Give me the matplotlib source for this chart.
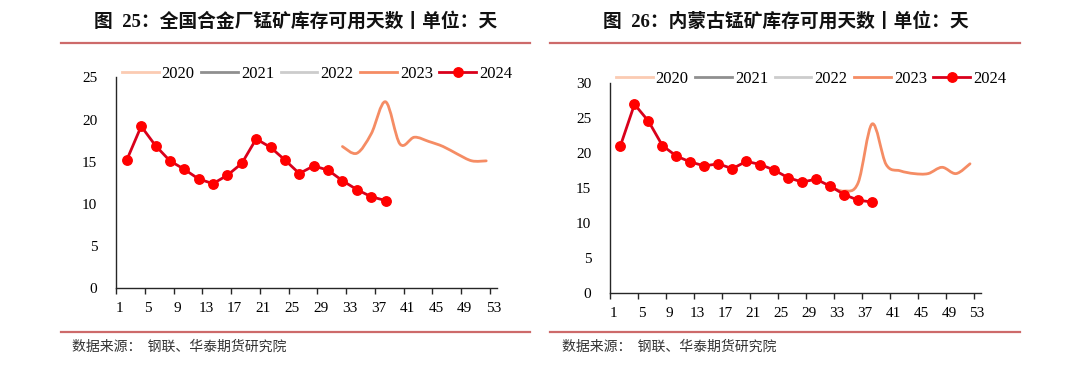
import matplotlib
matplotlib.use("Agg")
import matplotlib.pyplot as plt
from matplotlib.path import Path
from matplotlib.patches import PathPatch
from matplotlib.lines import Line2D
import numpy as np

# ---- data ----
weeks_2024 = [2, 4, 6, 8, 10, 12, 14, 16, 18, 20, 22, 24, 26, 28, 30, 32, 34, 36, 38]
national_2024 = [15.2, 19.2, 16.9, 15.1, 14.1, 12.95, 12.4, 13.4, 14.8, 17.7,
                 16.7, 15.2, 13.6, 14.5, 14.0, 12.75, 11.7, 10.85, 10.4]
inner_2024 = [21.1, 27.0, 24.6, 21.1, 19.6, 18.76, 18.2, 18.5, 17.8, 18.85,
              18.4, 17.6, 16.5, 15.9, 16.3, 15.3, 14.1, 13.3, 13.04]

weeks_2023 = [32, 34, 36, 38, 40, 42, 44, 46, 48, 50, 52]
national_2023 = [16.8, 16.0, 18.3, 22.1, 17.1, 17.9, 17.4, 16.8, 15.9, 15.1, 15.1]
inner_2023 = [15.2, 14.6, 15.8, 24.2, 18.4, 17.5, 17.1, 17.1, 18.0, 17.1, 18.5]

years = ["2020", "2021", "2022", "2023", "2024"]
year_colors = ["#FBCBB2", "#8F8F8F", "#CCCCCC", "#F58C64", "#D9001B"]
xtick_labels = [str(v) for v in range(1, 54, 4)]

titles = ["图  25：全国合金厂锰矿库存可用天数丨单位：天",
          "图  26：内蒙古锰矿库存可用天数丨单位：天"]
source = "数据来源：  钢联、华泰期货研究院"

SERIF = ["Liberation Serif", "Noto Sans CJK SC"]
CJK = ["Noto Sans CJK SC", "DejaVu Sans"]

W, H = 1080, 370
fig = plt.figure(figsize=(W / 100, H / 100), dpi=100)


def fx(px):
    return px / W


def fy(py):
    return 1 - py / H


def smooth_path(xs, ys):
    xs = np.asarray(xs, float)
    ys = np.asarray(ys, float)
    pts = np.column_stack([xs, ys])
    n = len(pts)
    verts = [pts[0]]
    codes = [Path.MOVETO]
    for i in range(n - 1):
        p0 = pts[i - 1] if i > 0 else pts[i]
        p1 = pts[i]
        p2 = pts[i + 1]
        p3 = pts[i + 2] if i + 2 < n else pts[i + 1]
        c1 = p1 + (p2 - p0) / 6.0
        c2 = p2 - (p3 - p1) / 6.0
        verts += [c1, c2, p2]
        codes += [Path.CURVE4] * 3
    return Path(verts, codes)


def draw_panel(rect, ymax, data23, data24, legend_x, legend_y):
    ax = fig.add_axes(rect)
    ax.set_xlim(0.5, 53.5)
    ax.set_ylim(0, ymax)
    for s in ["top", "right"]:
        ax.spines[s].set_visible(False)
    for s in ["left", "bottom"]:
        ax.spines[s].set_color("#262626")
        ax.spines[s].set_linewidth(1.0)

    # 2023 smoothed line
    patch = PathPatch(smooth_path(weeks_2023, data23), facecolor="none",
                      edgecolor=year_colors[3], lw=2.0, capstyle="round",
                      joinstyle="round", zorder=3, clip_on=False)
    ax.add_patch(patch)
    # empty series for 2020-2022
    for i in range(3):
        ax.plot([], [], color=year_colors[i], lw=2.0)
    ax.plot(weeks_2024, data24, color=year_colors[4], lw=2.0, marker="o",
            markersize=6.8, markerfacecolor="#FF0000", markeredgecolor="#FF0000",
            zorder=4, clip_on=False)

    # x ticks: marks between categories, labels on categories
    ax.set_xticks(np.arange(0.5, 53, 4), minor=True)
    ax.set_xticks(list(range(1, 54, 4)))
    ax.set_xticklabels(xtick_labels, fontfamily=SERIF, fontsize=11)
    ax.tick_params(axis="x", which="major", length=0, pad=10, colors="#000000")
    ax.tick_params(axis="x", which="minor", length=4, width=1.0,
                   direction="out", color="#262626")
    ax.set_yticks(np.arange(0, ymax + 0.1, 5))
    ax.set_yticklabels([str(int(v)) for v in np.arange(0, ymax + 0.1, 5)],
                       fontfamily=SERIF, fontsize=11)
    ax.tick_params(axis="y", length=0, pad=13.5)

    handles = []
    for i, y in enumerate(years):
        if i == 4:
            h = Line2D([], [], color=year_colors[i], lw=2.0, marker="o",
                       markersize=6.8, markerfacecolor="#FF0000",
                       markeredgecolor="#FF0000")
        else:
            h = Line2D([], [], color=year_colors[i], lw=2.0)
        handles.append(h)
    ax.legend(handles, years, ncol=5, frameon=False, loc="center left",
              bbox_to_anchor=(fx(legend_x), fy(legend_y)),
              bbox_transform=fig.transFigure,
              prop={"family": SERIF, "size": 12},
              handlelength=2.2, handletextpad=0.18, columnspacing=0.4,
              borderpad=0, borderaxespad=0)
    return ax


draw_panel([fx(116), fy(288.3), fx(381), 211 / H], 25,
           national_2023, national_2024, 122, 74)
draw_panel([fx(610), fy(293.3), fx(370.5), 210 / H], 30,
           inner_2023, inner_2024, 616, 79)

# titles
fig.text(fx(296), fy(21), titles[0], ha="center", va="center",
         fontsize=13.5, fontweight="bold", family=SERIF, color="#111111")
fig.text(fx(786), fy(21), titles[1], ha="center", va="center",
         fontsize=13.5, fontweight="bold", family=SERIF, color="#111111")

# separator lines
line_color = "#CD6A6A"
for (x0, x1) in [(61, 530), (550, 1020)]:
    fig.add_artist(Line2D([fx(x0), fx(x1)], [fy(43.3), fy(43.3)],
                          color=line_color, lw=1.6, transform=fig.transFigure))
    fig.add_artist(Line2D([fx(x0), fx(x1)], [fy(331.7), fy(331.7)],
                          color=line_color, lw=1.6, transform=fig.transFigure))

fig.text(fx(72), fy(347), source, ha="left", va="center",
         fontsize=10, family=CJK, color="#333333")
fig.text(fx(562), fy(347), source, ha="left", va="center",
         fontsize=10, family=CJK, color="#333333")

fig.savefig("out.png", dpi=100)
